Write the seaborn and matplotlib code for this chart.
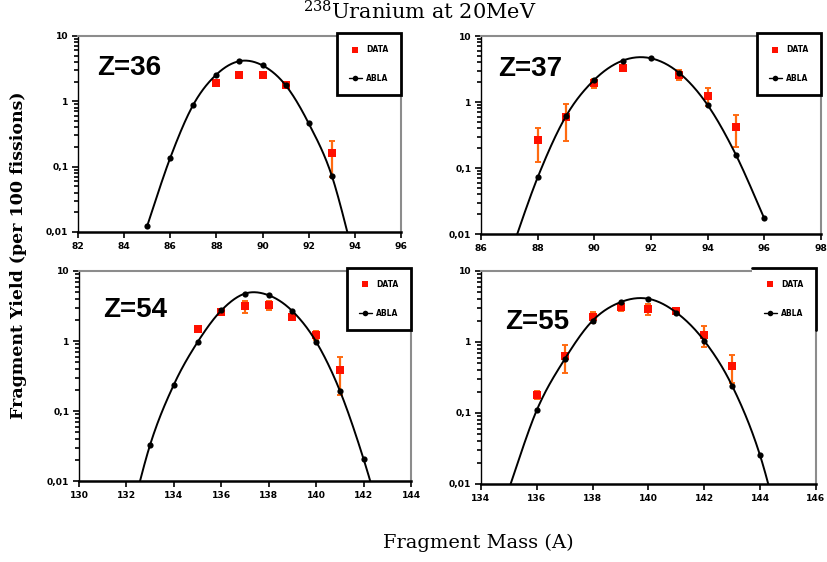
import numpy as np
import pandas as pd
import matplotlib
matplotlib.use("Agg")
import matplotlib.pyplot as plt
from matplotlib.lines import Line2D
from matplotlib.ticker import FixedLocator, FixedFormatter, LogLocator, NullFormatter
import seaborn as sns

# ---- fragment yields (per 100 fissions) ----
# Z = 36 (krypton)
z36_abla_mass = [85, 86, 87, 88, 89, 90, 91, 92, 93, 94]
z36_abla_yield = [0.0124, 0.137, 0.89, 2.57, 4.12, 3.54, 1.76, 0.459, 0.0727, 0.0035]
z36_data_mass = [88, 89, 90, 91, 93]
z36_data_yield = [1.89, 2.57, 2.57, 1.76, 0.16]
z36_data_err = [0.15, 0.15, 0.15, 0.12, 0.09]

# Z = 37 (rubidium)
z37_abla_mass = [87, 88, 89, 90, 91, 92, 93, 94, 95, 96]
z37_abla_yield = [0.0045, 0.072, 0.61, 2.17, 4.24, 4.6, 2.75, 0.90, 0.158, 0.0172]
z37_data_mass = [88, 89, 90, 91, 93, 94, 95]
z37_data_yield = [0.262, 0.60, 1.93, 3.27, 2.59, 1.24, 0.42]
z37_data_err = [0.14, 0.34, 0.28, 0.35, 0.45, 0.38, 0.21]

# Z = 54 (xenon)
z54_abla_mass = [132, 133, 134, 135, 136, 137, 138, 139, 140, 141, 142, 143]
z54_abla_yield = [0.0017, 0.033, 0.238, 0.964, 2.73, 4.76, 4.5, 2.67, 0.975, 0.195, 0.0206, 0.0014]
z54_data_mass = [135, 136, 137, 138, 139, 140, 141]
z54_data_yield = [1.49, 2.61, 3.12, 3.23, 2.19, 1.22, 0.38]
z54_data_err = [0.08, 0.15, 0.6, 0.45, 0.2, 0.17, 0.21]

# Z = 55 (caesium)
z55_abla_mass = [135, 136, 137, 138, 139, 140, 141, 142, 143, 144, 145]
z55_abla_yield = [0.0085, 0.110, 0.574, 2.0, 3.64, 4.06, 2.6, 1.04, 0.241, 0.0252, 0.0008]
z55_data_mass = [136, 137, 138, 139, 140, 141, 142, 143]
z55_data_yield = [0.18, 0.64, 2.28, 3.1, 2.93, 2.69, 1.26, 0.457]
z55_data_err = [0.025, 0.28, 0.4, 0.35, 0.5, 0.2, 0.4, 0.19]

panel_names = ["Z=36", "Z=37", "Z=54", "Z=55"]
mass_ranges = [(82, 96), (86, 98), (130, 144), (134, 146)]
y_ticks = [0.01, 0.1, 1, 10]
y_tick_labels = ["0,01", "0,1", "1", "10"]

title = "$^{238}$Uranium at 20MeV"
x_title = "Fragment Mass (A)"
y_title = "Fragment Yield (per 100 fissions)"


def smooth_curve(x, y, n=40):
    """Catmull-Rom spline through the points, in (x, log10 y) space."""
    px = np.asarray(x, float)
    py = np.log10(np.asarray(y, float))
    px = np.concatenate([[px[0]], px, [px[-1]]])
    py = np.concatenate([[py[0]], py, [py[-1]]])
    t = np.linspace(0, 1, n, endpoint=False)
    xs, ys = [], []
    for i in range(1, len(px) - 2):
        for p, out in ((px, xs), (py, ys)):
            p0, p1, p2, p3 = p[i - 1:i + 3]
            out.append(0.5 * (2 * p1 + (-p0 + p2) * t
                              + (2 * p0 - 5 * p1 + 4 * p2 - p3) * t ** 2
                              + (-p0 + 3 * p1 - 3 * p2 + p3) * t ** 3))
    xs.append([px[-2]])
    ys.append([py[-2]])
    return np.concatenate(xs), 10 ** np.concatenate(ys)


panels = [
    (z36_abla_mass, z36_abla_yield, z36_data_mass, z36_data_yield, z36_data_err),
    (z37_abla_mass, z37_abla_yield, z37_data_mass, z37_data_yield, z37_data_err),
    (z54_abla_mass, z54_abla_yield, z54_data_mass, z54_data_yield, z54_data_err),
    (z55_abla_mass, z55_abla_yield, z55_data_mass, z55_data_yield, z55_data_err),
]

# axes rectangles [left, bottom, width, height] in figure fraction
rects = [
    [0.0943, 0.5872, 0.3906, 0.3488],
    [0.5816, 0.5836, 0.4111, 0.3523],
    [0.0955, 0.1441, 0.4015, 0.3737],
    [0.5816, 0.1388, 0.4050, 0.3790],
]
label_pos = [(0.059, 0.837), (0.05, 0.833), (0.072, 0.814), (0.071, 0.76)]

sns.set_style("white")
plt.rcParams["font.family"] = ["DejaVu Sans"]
plt.rcParams["text.color"] = "black"
plt.rcParams["xtick.color"] = "black"
plt.rcParams["ytick.color"] = "black"
plt.rcParams["mathtext.fontset"] = "dejavuserif"

fig = plt.figure(figsize=(8.27, 5.62), dpi=100)

RED = "#ff1000"
ORANGE = "#ff6a10"
GRAY = "#8c8c8c"

axes = []
legends = []
for k, (am, ay, dm, dy, de) in enumerate(panels):
    ax = fig.add_axes(rects[k])
    axes.append(ax)
    ax.set_yscale("log")

    ax.errorbar(dm, dy, yerr=de, fmt="none", ecolor=ORANGE, elinewidth=1.6,
                capsize=2.2, capthick=1.4, zorder=2)
    data_df = pd.DataFrame({"mass": dm, "yield": dy})
    sns.scatterplot(data=data_df, x="mass", y="yield", marker="s", s=30,
                    color=RED, linewidth=0, ax=ax, zorder=3)

    cx, cy = smooth_curve(am, ay)
    curve_df = pd.DataFrame({"mass": cx, "yield": cy})
    sns.lineplot(data=curve_df, x="mass", y="yield", sort=False,
                 estimator=None, color="black", linewidth=1.4, ax=ax, zorder=4)
    abla_df = pd.DataFrame({"mass": am, "yield": ay})
    sns.scatterplot(data=abla_df, x="mass", y="yield", marker="o", s=20,
                    color="black", linewidth=0, ax=ax, zorder=5)

    lo, hi = mass_ranges[k]
    ax.set_xlim(lo, hi)
    ax.set_ylim(0.01, 10)
    ax.xaxis.set_major_locator(FixedLocator(np.arange(lo, hi + 1, 2)))
    ax.yaxis.set_major_locator(FixedLocator(y_ticks))
    ax.yaxis.set_major_formatter(FixedFormatter(y_tick_labels))
    ax.yaxis.set_minor_locator(LogLocator(base=10, subs=np.arange(2, 10)))
    ax.yaxis.set_minor_formatter(NullFormatter())
    ax.set_xlabel("")
    ax.set_ylabel("")

    ax.tick_params(axis="both", which="major", direction="out", length=4,
                   width=1.2, color="black", labelsize=6.6, pad=3,
                   labelcolor="black")
    ax.tick_params(axis="y", which="minor", direction="out", length=3,
                   width=1.2, color="black", left=True)
    ax.tick_params(axis="x", which="major", bottom=True)
    ax.tick_params(axis="y", which="major", left=True)
    for lbl in ax.get_xticklabels() + ax.get_yticklabels():
        lbl.set_fontweight("bold")

    ax.spines["left"].set_color("black")
    ax.spines["left"].set_linewidth(1.0)
    ax.spines["bottom"].set_color("black")
    ax.spines["bottom"].set_linewidth(1.8)
    for side in ("top", "right"):
        ax.spines[side].set_color(GRAY)
        ax.spines[side].set_linewidth(1.5)

    ax.text(label_pos[k][0], label_pos[k][1], panel_names[k],
            transform=ax.transAxes, ha="left", va="center",
            fontsize=20, fontweight="bold", family="Liberation Sans",
            color="black")

    handles = [
        Line2D([], [], marker="s", color=RED, linestyle="none", markersize=5,
               markeredgewidth=0),
        Line2D([], [], marker="o", color="black", linewidth=1.0, markersize=4,
               markeredgewidth=0),
    ]
    leg = ax.legend(handles, ["DATA", "ABLA"], loc="upper right",
                    bbox_to_anchor=(1.0, 1.015), borderaxespad=0,
                    frameon=True, fancybox=False, framealpha=1,
                    edgecolor="black", labelspacing=2.6,
                    borderpad=1.6, handlelength=1.7, handletextpad=0.6,
                    prop={"weight": "bold", "size": 5.5})
    leg.get_frame().set_linewidth(2.0)
    leg.set_zorder(10)
    legends.append(leg)

# the last legend box is only closed along its top and right sides
last_frame = legends[3].get_frame()
last_frame.set_edgecolor("none")
fig.canvas.draw()
bb = legends[3].get_window_extent().transformed(fig.transFigure.inverted())
fig.add_artist(Line2D([bb.x0, bb.x1, bb.x1], [bb.y1, bb.y1, bb.y0],
                      transform=fig.transFigure, color="black",
                      linewidth=2.0, solid_joinstyle="miter", zorder=20))

fig.text(0.508, 0.978, title, ha="center", va="center", fontsize=15,
         family="DejaVu Serif")
fig.text(0.578, 0.034, x_title, ha="center", va="center", fontsize=14,
         family="DejaVu Serif")
fig.text(0.022, 0.546, y_title, ha="center", va="center", rotation=90,
         fontsize=12.5, fontweight="bold", family="DejaVu Serif")

fig.savefig("out.png", dpi=100)
